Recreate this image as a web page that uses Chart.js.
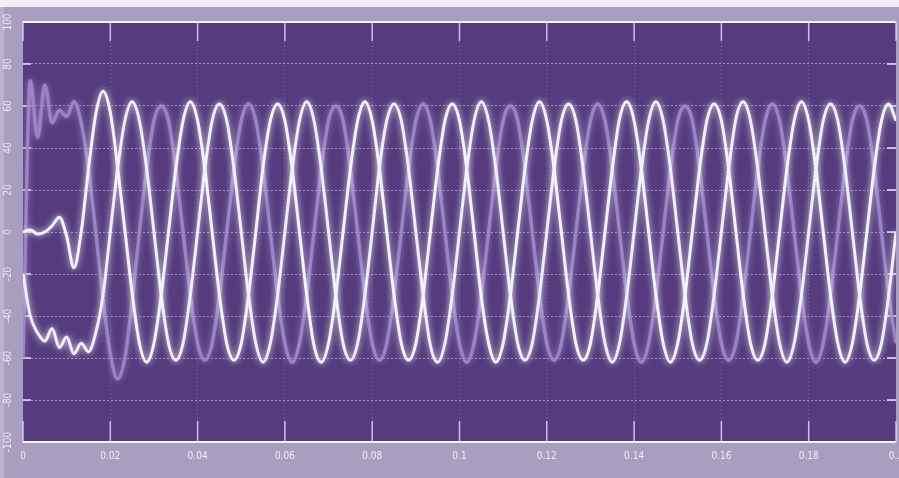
<!DOCTYPE html>
<html>
<head>
<meta charset="utf-8">
<script src="https://cdn.jsdelivr.net/npm/chart.js@4"></script>
<style>
  html, body { margin: 0; padding: 0; background: #aa9ec0; }
  #wrap { width: 899px; height: 478px; }
</style>
</head>
<body>
<div id="wrap"><canvas id="scope"></canvas></div>
<script>
// samples every 1/600 s (12 per 50 Hz cycle), 0 .. 0.2 s
const sampleStep = 1 / 600;

const xTickLabels = ['0', '0.02', '0.04', '0.06', '0.08', '0.1', '0.12', '0.14', '0.16', '0.18', '0.2'];
const yTickLabels = ['-100', '-80', '-60', '-40', '-20', '0', '20', '40', '60', '80', '100'];

// phase A (white)
const phaseA = [
    0, 1, -1, 0, 3, 7, -2, -17, 0, 30, 56, 67,
    57, 31, 1, -29, -53, -62, -53, -30, 0, 30, 53, 62,
    53, 30, 0, -30, -53, -61, -53, -30, 0, 31, 53, 61,
    53, 30, 0, -30, -54, -62, -53, -30, 0, 30, 53, 62,
    53, 30, 0, -30, -53, -61, -53, -30, 0, 30, 53, 61,
    53, 30, 0, -31, -53, -62, -53, -30, 0, 30, 53, 62,
    53, 30, 0, -30, -53, -61, -53, -30, 0, 30, 54, 62,
    53, 30, 0, -30, -53, -62, -53, -30, 0, 30, 53, 61,
    53, 30, 0, -30, -53, -61, -53, -30, 0, 30, 53, 62,
    53, 30, 0, -30, -53, -62, -53, -30, 0, 30, 53, 61,
    53
];

// phase B (white)
const phaseB = [
    -20, -40, -48, -52, -46, -55, -50, -58, -53, -57, -48, -30,
    0, 30, 53, 62, 53, 30, 0, -30, -53, -61, -53, -30,
    0, 30, 53, 61, 53, 30, 0, -30, -53, -62, -53, -30,
    0, 30, 53, 62, 53, 30, 0, -30, -53, -61, -53, -30,
    0, 31, 53, 61, 53, 30, 0, -30, -54, -62, -53, -30,
    0, 30, 53, 62, 53, 30, 0, -30, -53, -61, -53, -30,
    0, 30, 53, 61, 53, 30, 0, -30, -53, -62, -53, -30,
    0, 30, 53, 62, 53, 30, 0, -30, -53, -61, -53, -30,
    0, 30, 54, 62, 53, 30, 0, -30, -53, -62, -53, -30,
    0, 30, 53, 61, 53, 30, 0, -30, -53, -61, -53, -30,
    0
];

// phase C (faded)
const phaseC = [
    -60, 72, 45, 70, 52, 58, 55, 62, 52, 30, 0, -32,
    -58, -70, -60, -33, 0, 30, 53, 60, 53, 30, 0, -30,
    -53, -61, -53, -30, 0, 30, 53, 61, 53, 30, 0, -30,
    -53, -62, -53, -30, 0, 30, 53, 60, 53, 30, 0, -30,
    -53, -61, -53, -30, 0, 30, 53, 61, 53, 30, 0, -30,
    -53, -62, -53, -30, 0, 30, 53, 60, 53, 30, 0, -30,
    -53, -61, -53, -30, 0, 30, 53, 61, 53, 30, 0, -30,
    -53, -62, -53, -30, 0, 30, 53, 60, 53, 30, 0, -30,
    -53, -61, -53, -30, 0, 30, 53, 61, 53, 30, 0, -30,
    -53, -62, -53, -30, 0, 30, 53, 60, 53, 30, 0, -30,
    -53
];

const toPoints = arr => arr.map((v, k) => ({ x: k * sampleStep, y: v }));

const labelFont = { family: "'DejaVu Sans Condensed', 'DejaVu Sans', 'Liberation Sans', sans-serif", size: 10 };

const frame = {
    id: 'frame',
    beforeDraw(chart) {
        const { ctx, chartArea: a, width, height } = chart;
        ctx.save();
        ctx.fillStyle = '#aa9ec0';
        ctx.fillRect(0, 0, width, height);
        ctx.fillStyle = '#f0eff3';
        ctx.fillRect(0, 0, width, 7);
        ctx.fillStyle = '#bcb2cd';
        ctx.fillRect(0, 7, 4, height - 7);
        ctx.fillStyle = '#563c7e';
        ctx.fillRect(a.left, a.top, a.right - a.left, a.bottom - a.top);
        ctx.restore();
    },
    beforeDatasetsDraw(chart) {
        const { ctx, chartArea: a, scales } = chart;
        ctx.save();
        ctx.strokeStyle = 'rgba(225,215,245,0.85)';
        ctx.lineWidth = 1.5;
        scales.x.ticks.forEach(t => {
            const px = scales.x.getPixelForValue(t.value);
            ctx.beginPath();
            ctx.moveTo(px, a.top); ctx.lineTo(px, a.top + 19);
            ctx.moveTo(px, a.bottom - 21); ctx.lineTo(px, a.bottom);
            ctx.stroke();
        });
        ctx.strokeStyle = 'rgba(240,235,250,0.95)';
        scales.y.ticks.forEach(t => {
            const py = scales.y.getPixelForValue(t.value);
            ctx.beginPath();
            ctx.moveTo(a.left, py); ctx.lineTo(a.left + 8, py);
            ctx.moveTo(a.right - 9, py); ctx.lineTo(a.right, py);
            ctx.stroke();
        });
        ctx.strokeStyle = '#f4eff9';
        ctx.lineWidth = 2;
        ctx.beginPath();
        ctx.moveTo(a.left, a.top); ctx.lineTo(a.right, a.top);
        ctx.moveTo(a.left, a.bottom); ctx.lineTo(a.right, a.bottom);
        ctx.stroke();
        ctx.restore();
    },
    beforeDatasetDraw(chart, args) {
        const ctx = chart.ctx;
        ctx.save();
        ctx.shadowColor = args.index === 2 ? 'rgba(180,160,220,0.7)' : 'rgba(255,255,255,0.85)';
        ctx.shadowBlur = 6;
    },
    afterDatasetDraw(chart) {
        chart.ctx.restore();
    }
};

new Chart(document.getElementById('scope'), {
    type: 'line',
    data: {
        datasets: [
            { data: toPoints(phaseA), borderColor: '#f6f0fd', borderWidth: 3, order: 1 },
            { data: toPoints(phaseB), borderColor: '#f1ebfb', borderWidth: 3, order: 2 },
            { data: toPoints(phaseC), borderColor: 'rgba(160,136,202,0.9)', borderWidth: 3.5, order: 3 }
        ]
    },
    options: {
        responsive: true,
        maintainAspectRatio: false,
        animation: false,
        layout: { padding: { top: 22, right: 3, left: 0, bottom: 0 } },
        elements: {
            point: { radius: 0 },
            line: { cubicInterpolationMode: 'monotone' }
        },
        plugins: { legend: { display: false }, tooltip: { enabled: false } },
        scales: {
            x: {
                type: 'linear',
                min: 0,
                max: 0.2,
                afterFit: s => { s.height = 36; s.paddingLeft = 0; s.paddingRight = 0; },
                ticks: {
                    stepSize: 0.02,
                    autoSkip: false,
                    maxRotation: 0,
                    padding: 8,
                    color: '#f2edf8',
                    font: labelFont,
                    callback: (v, i) => xTickLabels[i]
                },
                grid: {
                    drawTicks: false,
                    color: c => (c.tick && (c.tick.value === 0 || c.tick.value >= 0.2 - 1e-9)) ? 'rgba(0,0,0,0)' : 'rgba(200,185,235,0.4)'
                },
                border: { display: false, dash: [1, 3] }
            },
            y: {
                min: -100,
                max: 100,
                afterFit: s => { s.width = 23; },
                ticks: {
                    stepSize: 20,
                    minRotation: 90,
                    maxRotation: 90,
                    crossAlign: 'center',
                    padding: 4,
                    color: '#f2edf8',
                    font: labelFont,
                    callback: (v, i) => yTickLabels[i]
                },
                grid: {
                    drawTicks: false,
                    color: c => (c.tick && Math.abs(c.tick.value) === 100) ? 'rgba(0,0,0,0)' : 'rgba(215,205,240,0.6)'
                },
                border: { display: false, dash: [2, 2] }
            }
        }
    },
    plugins: [frame]
});
</script>
</body>
</html>
